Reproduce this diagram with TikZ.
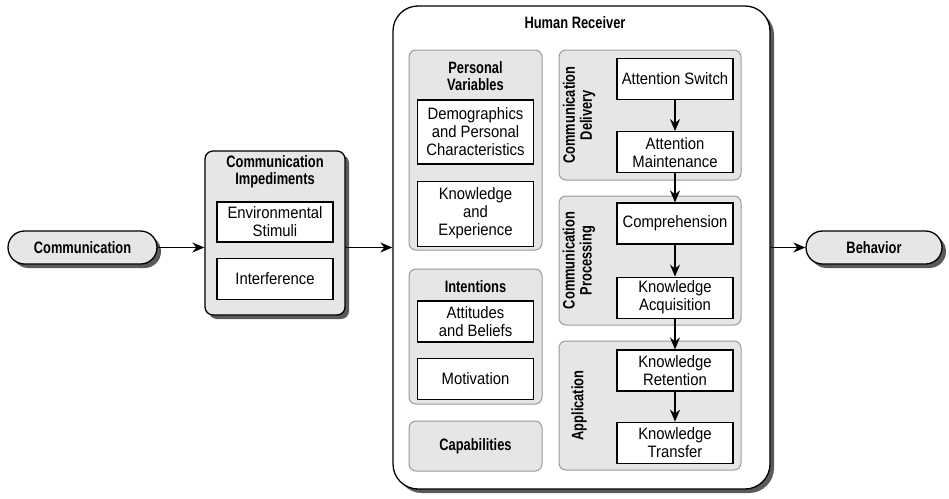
\documentclass[tikz,border=0pt]{standalone}
\usepackage{fontspec}
\setmainfont[FakeStretch=0.9]{Liberation Sans}
\newfontfamily\headfont[FakeStretch=0.78]{Liberation Sans Bold}
\usepackage{xcolor}
\usepackage{tikz}
\usetikzlibrary{arrows.meta,positioning,shadows}

\definecolor{boxgray}{HTML}{E6E6E6}
\definecolor{rimgray}{HTML}{9A9A9A}
\definecolor{shadegray}{HTML}{5A5A5A}

\begin{document}
\begin{tikzpicture}[
    x=1pt, y=-1pt,
    font=\fontsize{16.5}{18}\selectfont,
    outer/.style={rectangle, draw, line width=1.3pt, fill=boxgray, inner sep=0pt,
                  drop shadow={shadow xshift=4pt, shadow yshift=-4pt, fill=shadegray, opacity=1}},
    pill/.style={outer, rounded corners=16.5pt, minimum height=33pt, font=\headfont\fontsize{16.5}{18}\selectfont},
    group/.style={rectangle, draw=rimgray, line width=1pt, fill=boxgray, rounded corners=7pt, inner sep=0pt},
    item/.style={rectangle, draw, line width=1.2pt, fill=white, minimum width=116pt,
                 minimum height=41pt, inner sep=0pt, align=center},
    title/.style={align=center, inner sep=0pt, font=\headfont\fontsize{16.5}{17}\selectfont},
    side/.style={title, rotate=90},
    arrow/.style={-{Stealth[length=12pt,width=10pt]}, line width=1.4pt}
]
\useasboundingbox (0,0) rectangle (949,498);

% sender and outcome
\node[pill, minimum width=149pt] (comm) at (82.5,247.5) {Communication};
\node[pill, minimum width=136pt] (behav) at (874,247.5) {Behavior};

% impediments
\node[outer, rounded corners=8pt, minimum width=140pt, minimum height=164pt] (imped) at (275,233) {};
\node[title] (impedT) at (275,172) {Communication\\Impediments};
\node[item, minimum height=40pt] (envir) at (275,222) {Environmental\\Stimuli};
\node[item, below=15pt of envir] (inter) {Interference};

% human receiver
\node[outer, fill=white, rounded corners=25pt, minimum width=377pt, minimum height=483pt] (human) at (581.5,247.5) {};
\node[title] (humanT) at (575,23) {Human Receiver};

% left column
\node[group, minimum width=133pt, minimum height=200pt] (persv) at (475.5,150) {};
\node[title] (persvT) at (475.5,76.5) {Personal\\Variables};
\node[item, minimum height=64pt] (demog) at (475.5,132) {Demographics\\and Personal\\Characteristics};
\node[item, minimum height=65pt, below=16pt of demog] (knexp) {Knowledge\\and\\Experience};

\node[group, minimum width=133pt, minimum height=135pt] (inten) at (475.5,336.5) {};
\node[title] (intenT) at (475.5,287) {Intentions};
\node[item] (attit) at (475.5,321.5) {Attitudes\\and Beliefs};
\node[item, below=15pt of attit] (motiv) {Motivation};

\node[group, minimum width=133pt, minimum height=50pt] (capab) at (475.5,446) {};
\node[title] (capabT) at (capab) {Capabilities};

% right column
\node[group, minimum width=182pt, minimum height=130pt] (deliv) at (650,115) {};
\node[side] (delivT) at (579,115) {Communication\\Delivery};
\node[item] (aswit) at (675,79) {Attention Switch};
\node[item, below=31pt of aswit] (amain) {Attention\\Maintenance};

\node[group, minimum width=182pt, minimum height=129pt] (procs) at (650,260.5) {};
\node[side] (procsT) at (579,260.5) {Communication\\Processing};
\node[item] (compr) at (675,223.5) {Comprehension};
\node[item, below=32pt of compr] (kacqu) {Knowledge\\Acquisition};

\node[group, minimum width=182pt, minimum height=129pt] (appli) at (650,405.5) {};
\node[side] (appliT) at (579,405.5) {Application};
\node[item] (kreten) at (675,370.5) {Knowledge\\Retention};
\node[item, below=30pt of kreten] (ktrans) {Knowledge\\Transfer};

% flow
\draw[arrow] (comm.east) -- (comm.east -| imped.west);
\draw[arrow] (comm.east -| imped.east) -- (comm.east -| human.west);
\draw[arrow] (comm.east -| human.east) -- (behav.west);
\draw[arrow] (aswit) -- (amain);
\draw[arrow] (amain) -- (compr);
\draw[arrow] (compr) -- (kacqu);
\draw[arrow] (kacqu) -- (kreten);
\draw[arrow] (kreten) -- (ktrans);
\end{tikzpicture}
\end{document}
